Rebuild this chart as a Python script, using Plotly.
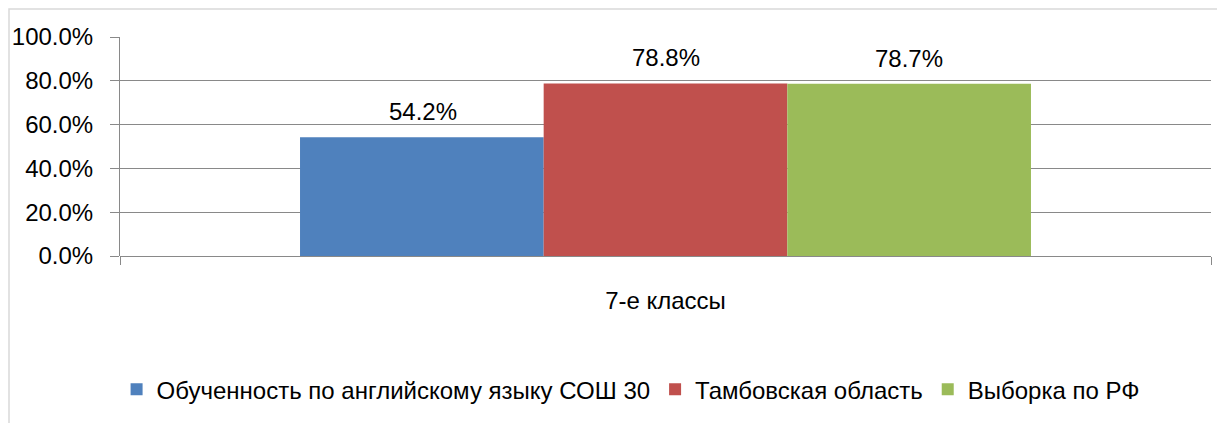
import plotly.graph_objects as go

categories = ["7-е классы"]
series_names = ["Обученность по английскому языку СОШ 30", "Тамбовская область", "Выборка по РФ"]
series_values = [[0.542], [0.788], [0.787]]
series_colors = ["#4F81BD", "#C0504D", "#9BBB59"]
y_ticks = [0, 0.2, 0.4, 0.6, 0.8, 1.0]
y_tick_labels = ["0.0%", "20.0%", "40.0%", "60.0%", "80.0%", "100.0%"]

FONT = "Liberation Sans Narrow, Arial Narrow, Liberation Sans, Arial, sans-serif"
GRID = "#898989"

fig = go.Figure()
for name, vals, col in zip(series_names, series_values, series_colors):
    fig.add_trace(go.Bar(
        x=categories, y=vals, name=name, marker=dict(color=col, line=dict(width=0)),
        offsetgroup=name,
    ))

# data labels
n = len(series_names)
for i, (name, vals) in enumerate(zip(series_names, series_values)):
    for c, v in zip(categories, vals):
        fig.add_annotation(
            x=c, y=v, xref="x", yref="y", text=f"{v*100:.1f}%", showarrow=False,
            yanchor="bottom", yshift=10, font=dict(family=FONT, size=24, color="#000"),
            xshift=(i - (n - 1) / 2) * 243,
        )

# the page body adds an 8px offset, so the figure is 8px smaller and margins compensate
fig.update_layout(
    width=1217, height=415,
    margin=dict(l=112, r=14, t=29, b=167, autoexpand=False),
    paper_bgcolor="white", plot_bgcolor="white",
    barmode="group", bargap=0.33, bargroupgap=0,
    font=dict(family=FONT, size=24, color="#000"),
    showlegend=True,
    legend=dict(orientation="h", x=0.468, xanchor="center", y=-0.61, yanchor="middle",
                font=dict(family=FONT, size=24, color="#000"), itemsizing="constant",
                traceorder="normal", bgcolor="rgba(0,0,0,0)"),
    xaxis=dict(type="category", showline=False, showgrid=False, ticks="outside",
               tickson="boundaries", ticklen=8, tickcolor=GRID, tickwidth=1,
               ticklabelstandoff=28, range=[-0.5, 0.5], automargin=False),
    yaxis=dict(range=[0, 1.0], tickvals=y_ticks, ticktext=y_tick_labels,
               showgrid=True, gridcolor=GRID, gridwidth=1,
               showline=True, linecolor=GRID, linewidth=1,
               ticks="outside", ticklen=9, tickcolor=GRID, ticklabelstandoff=12,
               zeroline=True, zerolinecolor=GRID, zerolinewidth=1, automargin=False),
    shapes=[dict(type="rect", xref="paper", yref="paper",
                 x0=(1 - 112) / 1091, x1=1.05, y0=-0.9, y1=(248 - 1) / 219,
                 line=dict(color="#D9D9D9", width=1.5), fillcolor="rgba(0,0,0,0)", layer="below")],
)

fig.write_html("out.html")
